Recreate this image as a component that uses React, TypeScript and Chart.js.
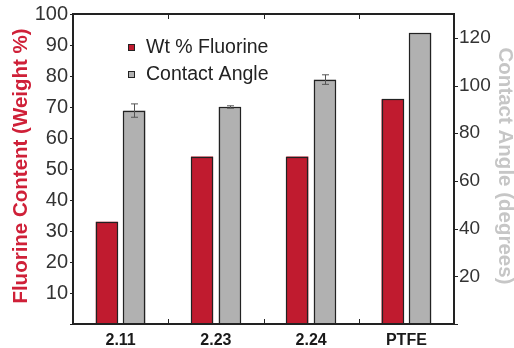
import React, { useEffect, useRef } from "react";
import { Chart, registerables } from "chart.js";

Chart.register(...registerables);

// Sample names on the category axis
const samples = ["2.11", "2.23", "2.24", "PTFE"];

// Fluorine content, weight % (left axis)
const fluorineWt = [33, 54, 54, 72.5];

// Water contact angle, degrees (right axis), with standard deviation
const contactAngle = [89.5, 91, 102.5, 122];
const contactAngleErr = [2.8, 0.5, 2, 0];

const seriesLabels = ["Wt % Fluorine", "Contact Angle"];
const leftTitle = "Fluorine Content (Weight %)";
const rightTitle = "Contact Angle (degrees)";

const FONT = "'Liberation Sans', Arial, Helvetica, sans-serif";
const RED = "#c01b2f";
const GRAY = "#b1b1b1";
const EDGE = "#222222";

// Frame, tick marks, bar outlines, error bars, legend and rotated axis titles
const decorPlugin = {
  id: "decor",
  afterDraw(chart: any) {
    const { ctx, scales } = chart;
    const yL = scales.y;
    const yR = scales.y1;
    const x = scales.x;
    const L = Math.round(yL.right);
    const R = Math.round(yR.left);
    const T = Math.round(yL.getPixelForValue(100));
    const B = Math.round(yL.getPixelForValue(0));
    ctx.save();

    // outline every bar
    ctx.strokeStyle = EDGE;
    ctx.lineWidth = 1.2;
    [0, 1].forEach((d) => {
      chart.getDatasetMeta(d).data.forEach((bar: any) => {
        const w = bar.width;
        const l = Math.round(bar.x - w / 2) + 0.5;
        const r = Math.round(bar.x + w / 2) - 0.5;
        const t = Math.round(bar.y) + 0.5;
        ctx.strokeRect(l, t, r - l, B - t);
      });
    });

    // error bars on the contact-angle bars
    const meta = chart.getDatasetMeta(1);
    ctx.strokeStyle = "#555";
    ctx.lineWidth = 1;
    ctx.beginPath();
    meta.data.forEach((bar: any, i: number) => {
      const e = contactAngleErr[i];
      if (!e) return;
      const cx = Math.round(bar.x) + 0.5;
      const top = yR.getPixelForValue(contactAngle[i] + e);
      const bot = yR.getPixelForValue(contactAngle[i] - e);
      ctx.moveTo(cx, top);
      ctx.lineTo(cx, bot);
      ctx.moveTo(cx - 3.5, top);
      ctx.lineTo(cx + 3.5, top);
      ctx.moveTo(cx - 3.5, bot);
      ctx.lineTo(cx + 3.5, bot);
    });
    ctx.stroke();

    // frame
    ctx.strokeStyle = EDGE;
    ctx.lineWidth = 2;
    ctx.strokeRect(L, T, R - L, B - T);

    // tick marks
    ctx.lineWidth = 1;
    ctx.beginPath();
    yL.ticks.forEach((t: any) => {
      const py = Math.round(yL.getPixelForValue(t.value)) + 0.5;
      if (t.value % 10 === 0) {
        ctx.moveTo(L - 3, py);
        ctx.lineTo(L, py);
      } else {
        ctx.moveTo(L, py);
        ctx.lineTo(L + 4, py);
      }
    });
    yR.ticks.forEach((t: any) => {
      const py = Math.round(yR.getPixelForValue(t.value)) + 0.5;
      if (t.value % 20 === 0) {
        ctx.moveTo(R, py);
        ctx.lineTo(R + 4, py);
      } else {
        ctx.moveTo(R - 4, py);
        ctx.lineTo(R, py);
      }
    });
    for (let i = 1; i < samples.length; i++) {
      const px = Math.round((x.getPixelForValue(i - 1) + x.getPixelForValue(i)) / 2) + 0.5;
      ctx.moveTo(px, B);
      ctx.lineTo(px, B - 5);
      ctx.moveTo(px, T);
      ctx.lineTo(px, T + 5);
    }
    ctx.stroke();

    // legend
    const colors = [RED, GRAY];
    ctx.font = `19.5px ${FONT}`;
    ctx.textBaseline = "middle";
    ctx.textAlign = "left";
    seriesLabels.forEach((lab, i) => {
      const cy = 48 + i * 27;
      ctx.fillStyle = colors[i];
      ctx.fillRect(128, cy - 4, 7, 7);
      ctx.strokeStyle = EDGE;
      ctx.lineWidth = 1;
      ctx.strokeRect(128.5, cy - 3.5, 6, 6);
      ctx.fillStyle = "#222";
      ctx.fillText(lab, 146, cy);
    });

    // axis titles
    ctx.font = `bold 20.5px ${FONT}`;
    ctx.textAlign = "center";
    ctx.textBaseline = "middle";
    ctx.save();
    ctx.translate(21, 166);
    ctx.rotate(-Math.PI / 2);
    ctx.fillStyle = "#cf2038";
    ctx.fillText(leftTitle, 0, 0);
    ctx.restore();
    ctx.save();
    ctx.translate(505, 166);
    ctx.rotate(Math.PI / 2);
    ctx.fillStyle = "#c6c6c6";
    ctx.fillText(rightTitle, 0, 0);
    ctx.restore();

    ctx.restore();
  },
};

const noEdgePadding = (s: any) => {
  s.paddingTop = 0;
  s.paddingBottom = 0;
};

export default function App() {
  const ref = useRef<HTMLCanvasElement | null>(null);

  useEffect(() => {
    document.body.style.margin = "0";
    const chart = new Chart(ref.current as HTMLCanvasElement, {
      type: "bar",
      data: {
        labels: samples,
        datasets: [
          {
            label: seriesLabels[0],
            data: fluorineWt,
            backgroundColor: RED,
            borderWidth: 0,
            yAxisID: "y",
          },
          {
            label: seriesLabels[1],
            data: contactAngle,
            backgroundColor: GRAY,
            borderWidth: 0,
            yAxisID: "y1",
          },
        ],
      },
      options: {
        animation: false,
        responsive: false,
        maintainAspectRatio: false,
        layout: { padding: { top: 14, right: 0, left: 0, bottom: 0 } },
        datasets: { bar: { categoryPercentage: 0.58, barPercentage: 0.8 } },
        plugins: { legend: { display: false }, tooltip: { enabled: false } },
        scales: {
          x: {
            grid: { display: false, drawTicks: false },
            border: { display: false },
            ticks: {
              padding: 7,
              color: "#1a1a1a",
              font: { family: FONT, size: 16, weight: "bold" },
            },
            afterFit: (s: any) => {
              s.height = 24;
              s.paddingLeft = 0;
              s.paddingRight = 0;
            },
          },
          y: {
            position: "left",
            min: 0,
            max: 100,
            grid: { display: false, drawTicks: false },
            border: { display: false },
            ticks: {
              stepSize: 5,
              padding: 5,
              color: "#333",
              font: { family: FONT, size: 20 },
              callback: (v: any) => (v !== 0 && v % 10 === 0 ? String(v) : ""),
            },
            afterFit: (s: any) => {
              s.width = 73;
              noEdgePadding(s);
            },
          },
          y1: {
            position: "right",
            min: 0,
            max: 130,
            grid: { display: false, drawTicks: false },
            border: { display: false },
            ticks: {
              stepSize: 10,
              padding: 5,
              color: "#333",
              font: { family: FONT, size: 19 },
              callback: (v: any) => (v !== 0 && v % 20 === 0 ? String(v) : ""),
            },
            afterFit: (s: any) => {
              s.width = 60;
              noEdgePadding(s);
            },
          },
        },
      } as any,
      plugins: [decorPlugin],
    });
    return () => chart.destroy();
  }, []);

  return (
    <div style={{ position: "fixed", left: 0, top: 0, width: 514, height: 348, background: "#fff" }}>
      <canvas ref={ref} width={514} height={348} style={{ width: 514, height: 348 }} />
    </div>
  );
}
